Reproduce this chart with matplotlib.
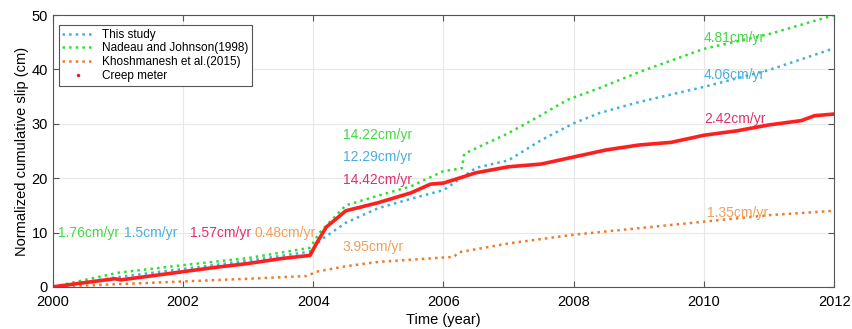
import numpy as np
import matplotlib.pyplot as plt

plt.rcParams['font.family'] = ['Liberation Sans', 'DejaVu Sans']

# Cumulative slip series (year, cm)
creep_year = [2000.0, 2000.5, 2000.95, 2001.05, 2001.5, 2002.0, 2002.5, 2003.0, 2003.5, 2003.95,
              2004.05, 2004.2, 2004.5, 2005.0, 2005.5, 2005.8, 2006.0, 2006.5, 2007.0, 2007.5,
              2008.0, 2008.5, 2009.0, 2009.5, 2010.0, 2010.5, 2011.0, 2011.5, 2011.7, 2012.0]
creep_slip = [0.0, 0.8, 1.5, 1.3, 2.0, 2.8, 3.6, 4.3, 5.2, 5.8,
              8.0, 11.0, 14.0, 15.5, 17.3, 18.9, 19.1, 21.0, 22.1, 22.6,
              23.9, 25.2, 26.1, 26.6, 27.9, 28.7, 29.8, 30.6, 31.5, 31.8]

study_year = [2000.0, 2001.0, 2002.0, 2003.0, 2003.95, 2004.1, 2004.5, 2005.0, 2005.5, 2006.0,
              2006.5, 2007.0, 2007.5, 2008.0, 2008.4, 2009.0, 2010.0, 2011.0, 2012.0]
study_slip = [0.0, 1.8, 3.3, 4.8, 6.5, 8.5, 11.8, 14.5, 16.2, 17.8,
              21.9, 23.3, 27.0, 30.1, 32.0, 34.0, 36.8, 39.9, 43.9]

nadeau_year = [2000.0, 2001.0, 2002.0, 2003.0, 2003.95, 2004.1, 2004.5, 2005.0, 2005.5, 2006.0,
               2006.28, 2006.32, 2007.0, 2007.5, 2007.9, 2008.4, 2009.0, 2010.0, 2011.0, 2012.0]
nadeau_slip = [0.0, 2.6, 4.0, 5.3, 7.2, 10.0, 15.0, 16.8, 18.5, 21.3,
               21.8, 24.5, 28.3, 31.6, 34.4, 36.6, 39.5, 43.8, 46.5, 50.0]

khosh_year = [2000.0, 2001.0, 2002.0, 2003.0, 2003.9, 2004.05, 2004.5, 2005.0, 2006.0, 2006.15,
              2006.25, 2007.0, 2008.0, 2009.0, 2010.0, 2011.0, 2012.0]
khosh_slip = [0.0, 0.5, 1.0, 1.5, 2.0, 2.8, 3.8, 4.6, 5.4, 5.5,
              6.4, 8.0, 9.6, 10.8, 12.0, 13.2, 14.0]

# Rate labels: (text, x, y, colour)
rate_labels = [
    ('1.76cm/yr', 2000.08, 10.0, '#44d844'),
    ('1.5cm/yr', 2001.1, 10.0, '#4aaee0'),
    ('1.57cm/yr', 2002.1, 10.0, '#e0306a'),
    ('0.48cm/yr', 2003.1, 10.0, '#f0a058'),
    ('3.95cm/yr', 2004.45, 7.3, '#f0a058'),
    ('14.22cm/yr', 2004.45, 27.9, '#44d844'),
    ('12.29cm/yr', 2004.45, 23.9, '#4aaee0'),
    ('14.42cm/yr', 2004.45, 19.7, '#e0306a'),
    ('4.81cm/yr', 2010.0, 45.8, '#44d844'),
    ('4.06cm/yr', 2010.0, 39.0, '#4aaee0'),
    ('2.42cm/yr', 2010.0, 30.8, '#e0306a'),
    ('1.35cm/yr', 2010.05, 13.6, '#f0a058'),
]

fig = plt.figure(figsize=(8.52, 3.29), dpi=100)
ax = fig.add_axes([0.062, 0.128, 0.917, 0.826])

ax.plot(study_year, study_slip, ':', color='#3fb0e0', lw=1.8, label='This study')
ax.plot(nadeau_year, nadeau_slip, ':', color='#2ee02e', lw=1.8, label='Nadeau and Johnson(1998)')
ax.plot(khosh_year, khosh_slip, ':', color='#f07a2a', lw=1.8, label='Khoshmanesh et al.(2015)')
ax.plot(creep_year, creep_slip, '-', color='#ff1f1f', lw=2.6)
# legend entry for the creep meter is a single dot
ax.plot([], [], '.', color='#e02020', markersize=3, label='Creep meter')

for txt, x, y, c in rate_labels:
    ax.text(x, y, txt, color=c, fontsize=10, va='center', ha='left')

ax.set_xlim(2000, 2012)
ax.set_ylim(0, 50)
ax.set_xticks(np.arange(2000, 2013, 2))
ax.set_yticks(np.arange(0, 51, 10))
ax.grid(True, color='#e8e8e8', lw=0.8)
ax.tick_params(direction='in', top=True, right=True, labelsize=10.5, length=4, color='#555555')
ax.tick_params(axis='x', pad=6)
for s in ax.spines.values():
    s.set_color('#555555')
ax.set_xlabel('Time (year)', fontsize=10.5, labelpad=3)
ax.set_ylabel('Normalized cumulative slip (cm)', fontsize=10.5, labelpad=2)

leg = ax.legend(loc='upper left', fontsize=8.5, fancybox=False, framealpha=1,
                edgecolor='#555555', handlelength=2.6, borderpad=0.3, labelspacing=0.15,
                bbox_to_anchor=(0.0, 0.985))
leg.get_frame().set_linewidth(0.8)

fig.savefig('out.png', dpi=100)
